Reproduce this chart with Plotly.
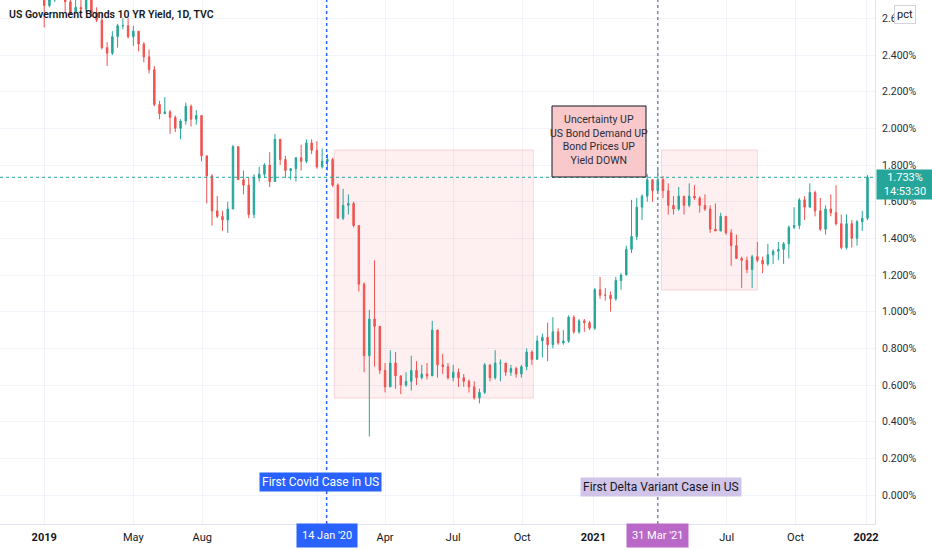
import pandas as pd
import plotly.graph_objects as go

# US 10Y yield (TVC), weekly bars, % values
# week ending Friday, Nov 2018 .. first week of Jan 2022
close = [
    3.18, 3.08, 3.05, 2.99, 2.85, 2.89, 2.79, 2.72,                      # 2018
    2.67, 2.70, 2.78, 2.76, 2.69, 2.63, 2.66, 2.65, 2.75, 2.63, 2.59, 2.44, 2.41,
    2.50, 2.56, 2.56, 2.50, 2.53, 2.46, 2.39, 2.32, 2.13, 2.08, 2.09, 2.06, 2.00,
    2.04, 2.12, 2.05, 2.07, 1.85, 1.74, 1.55, 1.52, 1.50, 1.56, 1.90, 1.72, 1.69,
    1.53, 1.73, 1.75, 1.80, 1.71, 1.94, 1.83, 1.77, 1.78, 1.84, 1.82, 1.92, 1.88,  # 2019
    1.79, 1.82, 1.83, 1.69, 1.51, 1.58, 1.59, 1.47, 1.15, 0.76, 0.96, 0.92, 0.68,
    0.59, 0.72, 0.65, 0.60, 0.62, 0.68, 0.64, 0.66, 0.65, 0.90, 0.71, 0.70, 0.64,
    0.67, 0.64, 0.62, 0.59, 0.53, 0.56, 0.71, 0.64, 0.72, 0.72, 0.67, 0.69, 0.66,
    0.70, 0.78, 0.74, 0.84, 0.86, 0.82, 0.89, 0.83, 0.84, 0.97, 0.89, 0.95, 0.94,  # 2020
    0.91, 1.12, 1.09, 1.09, 1.07, 1.17, 1.20, 1.34, 1.41, 1.57, 1.63, 1.72, 1.66,
    1.72, 1.66, 1.58, 1.56, 1.63, 1.58, 1.63, 1.62, 1.58, 1.56, 1.45, 1.44, 1.52,
    1.43, 1.36, 1.29, 1.28, 1.23, 1.30, 1.28, 1.26, 1.31, 1.33, 1.34, 1.37, 1.46,
    1.47, 1.61, 1.57, 1.65, 1.55, 1.45, 1.56, 1.54, 1.48, 1.35, 1.48, 1.40, 1.49, 1.51,  # 2021
    1.733,                                                               # 2022
]
high = [
    3.24, 3.19, 3.09, 3.09, 3.01, 2.91, 2.89, 2.83,
    2.72, 2.75, 2.79, 2.79, 2.76, 2.73, 2.71, 2.70, 2.76, 2.76, 2.66, 2.63, 2.47,
    2.53, 2.57, 2.60, 2.60, 2.56, 2.53, 2.47, 2.43, 2.34, 2.15, 2.17, 2.10, 2.07,
    2.05, 2.14, 2.13, 2.10, 2.07, 1.85, 1.75, 1.63, 1.55, 1.60, 1.91, 1.90, 1.77,
    1.73, 1.75, 1.79, 1.81, 1.87, 1.97, 1.94, 1.85, 1.78, 1.84, 1.91, 1.94, 1.94,
    1.93, 1.89, 1.86, 1.84, 1.70, 1.67, 1.64, 1.60, 1.47, 1.16, 1.01, 1.28, 0.89,
    0.72, 0.79, 0.78, 0.65, 0.67, 0.76, 0.73, 0.71, 0.72, 0.95, 0.90, 0.77, 0.72,
    0.71, 0.69, 0.66, 0.63, 0.62, 0.58, 0.72, 0.71, 0.79, 0.74, 0.72, 0.71, 0.70,
    0.71, 0.80, 0.79, 0.87, 0.88, 0.94, 0.97, 0.91, 0.90, 0.98, 0.98, 0.96, 0.96,
    0.95, 1.13, 1.19, 1.13, 1.11, 1.19, 1.21, 1.36, 1.61, 1.62, 1.64, 1.75, 1.72,
    1.78, 1.74, 1.70, 1.63, 1.68, 1.63, 1.70, 1.69, 1.63, 1.64, 1.58, 1.59, 1.54,
    1.52, 1.45, 1.42, 1.30, 1.30, 1.31, 1.38, 1.30, 1.37, 1.34, 1.38, 1.38, 1.47,
    1.57, 1.62, 1.63, 1.70, 1.66, 1.62, 1.58, 1.64, 1.69, 1.53, 1.53, 1.50, 1.50, 1.55,
    1.745,
]
low = [
    3.17, 3.06, 3.03, 2.99, 2.82, 2.83, 2.76, 2.71,
    2.55, 2.66, 2.69, 2.70, 2.63, 2.62, 2.63, 2.63, 2.63, 2.61, 2.58, 2.43, 2.34,
    2.40, 2.44, 2.54, 2.49, 2.45, 2.42, 2.36, 2.30, 2.12, 2.05, 2.08, 1.97, 1.98,
    1.94, 2.02, 2.01, 2.02, 1.82, 1.59, 1.47, 1.51, 1.44, 1.43, 1.56, 1.72, 1.64,
    1.51, 1.51, 1.71, 1.73, 1.68, 1.71, 1.80, 1.73, 1.72, 1.71, 1.77, 1.81, 1.86,
    1.78, 1.78, 1.77, 1.68, 1.51, 1.50, 1.53, 1.46, 1.11, 0.67, 0.32, 0.70, 0.66,
    0.56, 0.63, 0.58, 0.55, 0.59, 0.57, 0.60, 0.63, 0.63, 0.65, 0.64, 0.66, 0.63,
    0.62, 0.59, 0.59, 0.56, 0.52, 0.50, 0.55, 0.62, 0.63, 0.62, 0.65, 0.65, 0.64,
    0.64, 0.68, 0.71, 0.75, 0.75, 0.73, 0.80, 0.82, 0.82, 0.83, 0.88, 0.88, 0.89,
    0.90, 0.90, 1.07, 1.06, 1.00, 1.06, 1.12, 1.20, 1.32, 1.39, 1.50, 1.60, 1.60,
    1.66, 1.62, 1.53, 1.53, 1.55, 1.53, 1.57, 1.61, 1.54, 1.55, 1.43, 1.44, 1.44,
    1.42, 1.25, 1.29, 1.13, 1.21, 1.13, 1.27, 1.21, 1.25, 1.26, 1.28, 1.26, 1.29,
    1.45, 1.45, 1.50, 1.57, 1.52, 1.44, 1.42, 1.52, 1.47, 1.34, 1.34, 1.35, 1.36, 1.44,
    1.50,
]
first_open = 3.22

# events / highlighted periods
covid_date = "2020-01-14"
delta_date = "2021-03-31"
covid_box = ("2020-01-24", "2020-10-16", 0.529, 1.882)
delta_box = ("2021-04-05", "2021-08-11", 1.118, 1.882)

# x axis labels (TradingView style)
x_ticks = ["2019-01-02", "2019-05-01", "2019-08-01", "2020-01-02", "2020-04-01",
           "2020-07-01", "2020-10-01", "2021-01-04", "2021-04-01", "2021-07-01",
           "2021-10-01", "2022-01-03"]
x_labels = ["<b>2019</b>", "May", "Aug", "", "Apr", "Jul", "Oct", "<b>2021</b>",
            "", "Jul", "Oct", "<b>2022</b>"]
y_ticks = [0.0, 0.2, 0.4, 0.6, 0.8, 1.0, 1.2, 1.4, 1.6, 1.8, 2.0, 2.2, 2.4, 2.6]

# candle centred mid-week
dates = pd.date_range(end="2022-01-05", periods=len(close), freq="W-WED")
opens = [first_open] + close[:-1]

UP = "#26a69a"
DOWN = "#ef5350"
FONT = "Roboto"
PW, PH = 875, 524   # plot area in pixels


def px(x):
    return x / PW


def py(y):
    return 1 - y / PH


fig = go.Figure(go.Candlestick(
    x=dates, open=opens, high=high, low=low, close=close,
    increasing=dict(line=dict(color=UP, width=1), fillcolor=UP),
    decreasing=dict(line=dict(color=DOWN, width=1), fillcolor=DOWN),
    whiskerwidth=0, showlegend=False, hoverinfo="skip",
))

fig.update_layout(
    width=932, height=550,
    margin=dict(l=0, r=932 - PW, t=0, b=550 - PH),
    paper_bgcolor="white", plot_bgcolor="white",
    boxgap=0.6,
    font=dict(family=FONT, size=11, color="#131722"),
    xaxis=dict(
        type="date", range=["2018-11-04", "2022-01-15"], automargin=False,
        rangeslider_visible=False,
        tickvals=x_ticks, ticktext=x_labels, ticks="",
        ticklabelstandoff=3,
        showgrid=True, gridcolor="#f0f3fa", gridwidth=1,
        showline=True, linecolor="#e0e3eb", zeroline=False,
        tickfont=dict(size=11, color="#131722"),
    ),
    yaxis=dict(
        side="right", range=[-0.158, 2.70], automargin=False,
        tickvals=y_ticks, ticktext=[f"{v:.3f}%" for v in y_ticks], ticks="",
        ticklabelstandoff=4,
        showgrid=True, gridcolor="#f0f3fa", gridwidth=1,
        showline=True, linecolor="#e0e3eb", zeroline=False,
        tickfont=dict(size=10.5, color="#2a2e39"),
    ),
)

# highlighted periods
for x0, x1, y0, y1 in (covid_box, delta_box):
    fig.add_shape(type="rect", xref="x", yref="y", x0=x0, x1=x1, y0=y0, y1=y1,
                  fillcolor="rgba(242,54,69,0.08)",
                  line=dict(color="rgba(242,54,69,0.18)", width=1), layer="between")

# last price line
last = close[-1]
fig.add_shape(type="line", xref="paper", yref="y", x0=0, x1=1, y0=last, y1=last,
              line=dict(color=UP, width=1, dash="dot"))

# event lines
fig.add_shape(type="line", xref="x", yref="paper", x0=covid_date, x1=covid_date,
              y0=0, y1=1, line=dict(color="#2962ff", width=1.5, dash="dot"))
fig.add_shape(type="line", xref="x", yref="paper", x0=delta_date, x1=delta_date,
              y0=0, y1=1, line=dict(color="#8a8d96", width=1.5, dash="dot"))

# callout box
fig.add_shape(type="rect", xref="paper", yref="paper",
              x0=px(552), x1=px(646), y0=py(177), y1=py(106),
              fillcolor="#f9c8cb", line=dict(color="#131722", width=1))
fig.add_annotation(xref="paper", yref="paper", x=px(599), y=py(140),
                   xanchor="center", yanchor="middle",
                   text="Uncertainty UP<br>US Bond Demand UP<br>Bond Prices UP<br>Yield DOWN",
                   showarrow=False, align="center",
                   font=dict(family=FONT, size=10.5, color="#2a2e39"))

# event labels
fig.add_annotation(xref="x", yref="paper", x=covid_date, y=py(482), xshift=-6,
                   xanchor="center", yanchor="middle",
                   text="First Covid Case in US", showarrow=False,
                   bgcolor="#2962ff", borderpad=2,
                   font=dict(family=FONT, size=12, color="white"))
fig.add_annotation(xref="x", yref="paper", x=delta_date, y=py(487), xshift=3,
                   xanchor="center", yanchor="middle",
                   text="First Delta Variant Case in US", showarrow=False,
                   bgcolor="#d1c4e9", borderpad=2,
                   font=dict(family=FONT, size=12, color="#131722"))

# date badges on the time axis
for d, col in ((covid_date, "#2962ff"), (delta_date, "#ba68c8")):
    fig.add_annotation(xref="x", yref="paper", x=d, y=py(535),
                       xanchor="center", yanchor="middle",
                       text=pd.Timestamp(d).strftime("%-d %b '%y"), showarrow=False,
                       bgcolor=col, borderpad=5,
                       font=dict(family=FONT, size=11, color="white"))

# title
fig.add_annotation(xref="paper", yref="paper", x=px(7), y=py(15),
                   xanchor="left", yanchor="middle", showarrow=False,
                   text="US Government Bonds 10 YR Yield, 1D, TVC",
                   font=dict(family=FONT, size=10.5, color="#131722", weight=600))

# price scale badges
fig.add_annotation(xref="paper", yref="paper", x=px(905), y=py(15),
                   xanchor="center", yanchor="middle",
                   text="pct", showarrow=False, bgcolor="white",
                   bordercolor="#d1d4dc", borderwidth=1, borderpad=2,
                   font=dict(family=FONT, size=11, color="#131722"))
fig.add_annotation(xref="paper", yref="y", x=px(876), y=last, yshift=-7,
                   xanchor="left", yanchor="middle",
                   text=f"{last:.3f}%<br>14:53:30", showarrow=False,
                   bgcolor=UP, width=54, height=27, borderpad=1, align="center",
                   font=dict(family=FONT, size=11, color="white"))

# page has a default body margin; drop it so the figure fills the window
fig.write_html("out.html", config={"displayModeBar": False},
               post_script="document.body.style.margin='0px';")
